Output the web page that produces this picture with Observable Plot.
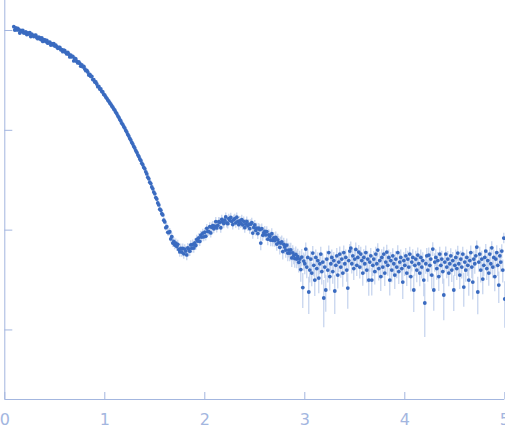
<!DOCTYPE html>
<html><head><meta charset="utf-8">
<script src="https://cdn.jsdelivr.net/npm/d3@7"></script>
<script src="https://cdn.jsdelivr.net/npm/@observablehq/plot@0.6"></script>
<style>html,body{margin:0;padding:0;background:#fff;overflow:hidden}</style>
</head><body><div id="chart"></div>
<script>
// scattering vector q (nm^-1)
const q = [0.09,
0.10,0.11,0.12,0.13,0.14,0.15,0.16,0.17,0.18,0.19,
0.20,0.21,0.22,0.23,0.24,0.25,0.26,0.27,0.28,0.29,
0.30,0.31,0.32,0.33,0.34,0.35,0.36,0.37,0.38,0.39,
0.40,0.41,0.42,0.43,0.44,0.45,0.46,0.47,0.48,0.49,
0.50,0.51,0.52,0.53,0.54,0.55,0.56,0.57,0.58,0.59,
0.60,0.61,0.62,0.63,0.64,0.65,0.66,0.67,0.68,0.69,
0.70,0.71,0.72,0.73,0.74,0.75,0.76,0.77,0.78,0.79,
0.80,0.81,0.82,0.83,0.84,0.85,0.86,0.87,0.88,0.89,
0.90,0.91,0.92,0.93,0.94,0.95,0.96,0.97,0.98,0.99,
1.00,1.01,1.02,1.03,1.04,1.05,1.06,1.07,1.08,1.09,
1.10,1.11,1.12,1.13,1.14,1.15,1.16,1.17,1.18,1.19,
1.20,1.21,1.22,1.23,1.24,1.25,1.26,1.27,1.28,1.29,
1.30,1.31,1.32,1.33,1.34,1.35,1.36,1.37,1.38,1.39,
1.40,1.41,1.42,1.43,1.44,1.45,1.46,1.47,1.48,1.49,
1.50,1.51,1.52,1.53,1.54,1.55,1.56,1.57,1.58,1.59,
1.60,1.61,1.62,1.63,1.64,1.65,1.66,1.67,1.68,1.69,
1.70,1.71,1.72,1.73,1.74,1.75,1.76,1.77,1.78,1.79,
1.80,1.81,1.82,1.83,1.84,1.85,1.86,1.87,1.88,1.89,
1.90,1.91,1.92,1.93,1.94,1.95,1.96,1.97,1.98,1.99,
2.00,2.01,2.02,2.03,2.04,2.05,2.06,2.07,2.08,2.09,
2.10,2.11,2.12,2.13,2.14,2.15,2.16,2.17,2.18,2.19,
2.20,2.21,2.22,2.23,2.24,2.25,2.26,2.27,2.28,2.29,
2.30,2.31,2.32,2.33,2.34,2.35,2.36,2.37,2.38,2.39,
2.40,2.41,2.42,2.43,2.44,2.45,2.46,2.47,2.48,2.49,
2.50,2.51,2.52,2.53,2.54,2.55,2.56,2.57,2.58,2.59,
2.60,2.61,2.62,2.63,2.64,2.65,2.66,2.67,2.68,2.69,
2.70,2.71,2.72,2.73,2.74,2.75,2.76,2.77,2.78,2.79,
2.80,2.81,2.82,2.83,2.84,2.85,2.86,2.87,2.88,2.89,
2.90,2.91,2.92,2.93,2.94,2.95,2.96,2.97,2.98,2.99,
3.00,3.01,3.02,3.03,3.04,3.05,3.06,3.07,3.08,3.09,
3.10,3.11,3.12,3.13,3.14,3.15,3.16,3.17,3.18,3.19,
3.20,3.21,3.22,3.23,3.24,3.25,3.26,3.27,3.28,3.29,
3.30,3.31,3.32,3.33,3.34,3.35,3.36,3.37,3.38,3.39,
3.40,3.41,3.42,3.43,3.44,3.45,3.46,3.47,3.48,3.49,
3.50,3.51,3.52,3.53,3.54,3.55,3.56,3.57,3.58,3.59,
3.60,3.61,3.62,3.63,3.64,3.65,3.66,3.67,3.68,3.69,
3.70,3.71,3.72,3.73,3.74,3.75,3.76,3.77,3.78,3.79,
3.80,3.81,3.82,3.83,3.84,3.85,3.86,3.87,3.88,3.89,
3.90,3.91,3.92,3.93,3.94,3.95,3.96,3.97,3.98,3.99,
4.00,4.01,4.02,4.03,4.04,4.05,4.06,4.07,4.08,4.09,
4.10,4.11,4.12,4.13,4.14,4.15,4.16,4.17,4.18,4.19,
4.20,4.21,4.22,4.23,4.24,4.25,4.26,4.27,4.28,4.29,
4.30,4.31,4.32,4.33,4.34,4.35,4.36,4.37,4.38,4.39,
4.40,4.41,4.42,4.43,4.44,4.45,4.46,4.47,4.48,4.49,
4.50,4.51,4.52,4.53,4.54,4.55,4.56,4.57,4.58,4.59,
4.60,4.61,4.62,4.63,4.64,4.65,4.66,4.67,4.68,4.69,
4.70,4.71,4.72,4.73,4.74,4.75,4.76,4.77,4.78,4.79,
4.80,4.81,4.82,4.83,4.84,4.85,4.86,4.87,4.88,4.89,
4.90,4.91,4.92,4.93,4.94,4.95,4.96,4.97,4.98,4.99,
5.00];

// log10 of intensity (arbitrary units)
const logI = [3.038,
3.005,3.026,3.006,3.022,3.006,2.975,3.001,2.989,3.000,2.976,
2.976,2.986,2.960,2.976,2.964,2.978,2.939,2.963,2.952,2.939,
2.950,2.953,2.928,2.918,2.933,2.926,2.909,2.925,2.891,2.909,
2.907,2.890,2.900,2.873,2.882,2.883,2.854,2.869,2.857,2.868,
2.844,2.853,2.836,2.821,2.831,2.830,2.807,2.809,2.788,2.802,
2.798,2.779,2.765,2.780,2.763,2.735,2.752,2.736,2.740,2.695,
2.720,2.715,2.690,2.675,2.685,2.670,2.643,2.655,2.636,2.641,
2.615,2.598,2.601,2.584,2.554,2.561,2.540,2.539,2.508,2.507,
2.484,2.484,2.464,2.437,2.439,2.413,2.415,2.389,2.384,2.360,
2.352,2.333,2.321,2.303,2.291,2.274,2.262,2.244,2.231,2.213,
2.202,2.180,2.166,2.145,2.130,2.108,2.094,2.072,2.058,2.036,
2.022,1.998,1.982,1.958,1.942,1.918,1.902,1.878,1.862,1.838,
1.822,1.797,1.780,1.754,1.738,1.713,1.698,1.670,1.655,1.628,
1.614,1.584,1.563,1.530,1.514,1.480,1.466,1.432,1.414,1.381,
1.364,1.326,1.311,1.272,1.253,1.210,1.199,1.165,1.152,1.099,
1.082,1.025,1.035,0.978,0.975,0.985,0.912,0.935,0.870,0.886,
0.850,0.870,0.835,0.858,0.807,0.783,0.817,0.781,0.818,0.763,
0.810,0.790,0.752,0.823,0.810,0.789,0.852,0.819,0.858,0.821,
0.872,0.846,0.907,0.891,0.923,0.887,0.950,0.930,0.970,0.933,
0.980,0.939,1.018,0.987,0.986,1.035,0.972,1.029,1.046,1.013,
1.040,1.086,1.022,1.048,1.084,1.080,1.024,1.108,1.082,1.066,
1.100,1.132,1.073,1.065,1.116,1.098,1.127,1.087,1.056,1.106,
1.115,1.072,1.130,1.087,1.055,1.092,1.069,1.105,1.052,1.088,
1.025,1.061,1.087,1.043,1.059,1.015,1.060,1.076,0.971,1.027,
1.052,0.997,1.021,0.966,1.020,1.005,0.870,1.014,0.949,0.973,
0.988,0.952,0.986,0.909,0.953,0.937,0.901,0.964,0.898,0.921,
0.895,0.928,0.860,0.903,0.875,0.828,0.870,0.883,0.785,0.858,
0.830,0.800,0.850,0.770,0.800,0.770,0.801,0.722,0.773,0.744,
0.715,0.758,0.711,0.734,0.677,0.710,0.605,0.730,0.425,0.690,
0.663,0.810,0.630,0.727,0.380,0.600,0.710,0.570,0.770,0.647,
0.500,0.727,0.615,0.695,0.520,0.663,0.760,0.585,0.680,0.320,
0.630,0.400,0.710,0.600,0.775,0.535,0.663,0.727,0.585,0.695,
0.390,0.647,0.743,0.550,0.680,0.760,0.630,0.710,0.570,0.775,
0.663,0.727,0.600,0.420,0.695,0.790,0.820,0.663,0.743,0.615,
0.710,0.807,0.647,0.727,0.780,0.630,0.760,0.695,0.570,0.727,
0.663,0.775,0.600,0.710,0.500,0.680,0.743,0.500,0.647,0.710,
0.585,0.760,0.663,0.800,0.615,0.695,0.535,0.727,0.630,0.760,
0.570,0.680,0.780,0.647,0.727,0.500,0.695,0.600,0.743,0.663,
0.550,0.710,0.630,0.775,0.585,0.680,0.727,0.615,0.480,0.695,
0.647,0.743,0.570,0.710,0.630,0.760,0.535,0.680,0.727,0.400,
0.647,0.710,0.600,0.750,0.663,0.570,0.727,0.630,0.695,0.500,
0.270,0.663,0.743,0.600,0.750,0.647,0.710,0.550,0.810,0.400,
0.680,0.727,0.615,0.695,0.535,0.760,0.647,0.710,0.585,0.350,
0.680,0.760,0.630,0.710,0.570,0.663,0.743,0.600,0.695,0.400,
0.647,0.727,0.615,0.770,0.663,0.550,0.710,0.630,0.760,0.430,
0.680,0.600,0.727,0.647,0.500,0.695,0.775,0.630,0.480,0.710,
0.663,0.743,0.830,0.380,0.680,0.760,0.600,0.710,0.510,0.647,
0.727,0.790,0.615,0.695,0.570,0.760,0.663,0.823,0.630,0.727,
0.535,0.710,0.775,0.647,0.450,0.743,0.680,0.790,0.600,0.920,
0.310];

// absolute intensity uncertainty (same units as 10^logI)
const sigma = [16,
16,15,16,15,15,14,15,14,14,14,
14,13,14,13,13,13,13,12,13,13,
13,12,12,12,12,12,11,12,11,11,
12,11,11,11,11,10,11,10,10,10,
11,10,10,10,9.5,9.5,9,9.5,9,9,
9,8.8,8.6,8.5,8.3,8.1,8,7.8,7.6,7.5,
7.8,7.5,7.3,7,6.8,6.6,6.4,6.2,6,5.8,
6.3,6,5.8,5.6,5.4,5.2,5,4.8,4.6,4.4,
4.6,4.5,4.3,4.2,4,3.9,3.8,3.6,3.5,3.4,
3.4,3.3,3.2,3.1,3.0,2.9,2.8,2.7,2.6,2.5,
2.5,2.4,2.3,2.2,2.1,2.0,1.95,1.9,1.85,1.8,
1.8,1.7,1.65,1.6,1.5,1.45,1.4,1.35,1.3,1.25,
1.25,1.2,1.15,1.1,1.08,1.05,1.02,1.0,0.98,0.96,
0.95,0.93,0.92,0.9,0.89,0.88,0.87,0.86,0.85,0.84,
0.84,0.83,0.82,0.82,0.81,0.8,0.8,0.79,0.78,0.78,
0.77,0.77,0.76,0.76,0.75,0.75,0.74,0.74,0.73,0.73,
0.72,0.72,0.72,0.71,0.71,0.71,0.7,0.7,0.7,0.7,
0.7,0.7,0.71,0.71,0.72,0.72,0.73,0.74,0.75,0.76,
0.77,0.78,0.8,0.81,0.82,0.84,0.85,0.86,0.88,0.9,
0.9,0.92,0.95,0.97,1.0,1.02,1.05,1.07,1.1,1.12,
1.14,1.16,1.18,1.2,1.22,1.24,1.26,1.28,1.3,1.31,
1.32,1.33,1.34,1.35,1.36,1.36,1.37,1.37,1.37,1.37,
1.37,1.36,1.36,1.35,1.35,1.34,1.33,1.33,1.32,1.31,
1.3,1.3,1.29,1.28,1.27,1.26,1.25,1.25,1.24,1.23,
1.22,1.22,1.21,1.2,1.2,1.19,1.18,1.18,1.17,1.17,
1.16,1.16,1.15,1.15,1.14,1.14,1.13,1.13,1.12,1.12,
1.11,1.11,1.1,1.1,1.1,1.09,1.09,1.08,1.08,1.08,
1.07,1.07,1.07,1.06,1.06,1.06,1.05,1.05,1.05,1.05,
1.04,1.04,1.04,1.03,1.03,1.03,1.02,1.02,1.02,1.02,
1.02,0.98,1.01,1.0,0.97,1.03,0.99,1.01,0.98,1.02,
1.0,0.99,1.03,0.98,1.01,1.0,0.97,1.02,0.99,1.04,
0.98,1.01,1.0,1.03,0.99,0.97,1.02,1.0,0.98,1.01,
1.03,0.99,1.0,0.98,1.02,1.01,0.97,1.0,1.03,0.99,
1.01,1.0,0.98,1.02,0.99,1.03,1.0,0.97,1.01,1.0,
0.99,1.02,1.0,0.98,1.01,1.03,0.99,1.0,0.97,1.02,
1.0,0.98,1.03,1.01,0.99,1.0,1.02,0.98,1.01,0.99,
1.02,1.0,0.97,1.01,1.03,0.99,1.0,1.02,0.98,1.0,
0.99,1.01,1.02,0.98,1.0,0.97,1.03,1.01,0.99,1.0,
1.01,0.98,1.0,1.02,0.99,1.01,0.98,1.03,1.0,0.99,
1.0,1.02,0.99,1.01,0.97,1.0,1.03,0.98,1.01,1.02,
0.98,1.0,1.01,0.99,1.03,1.0,0.98,1.02,0.99,1.01,
1.02,0.99,1.0,0.98,1.01,1.03,1.0,0.99,1.02,0.97,
1.0,1.01,0.98,1.02,1.0,0.99,1.03,1.01,0.98,1.0,
0.99,1.02,1.01,0.97,1.0,1.02,0.99,1.0,1.03,0.98,
1.01,1.0,0.99,1.02,0.98,1.01,1.0,1.03,0.99,1.0,
1.02,0.98,1.0,1.01,0.99,1.03,0.98,1.0,1.02,1.01,
0.99,1.0,1.02,0.98,1.01,0.99,1.03,1.0,0.98,1.02,
1.0,1.01,0.99,1.02,0.98,1.0,1.03,0.99,1.01,1.0,
1.02,0.99,1.0,1.01,0.98,1.02,1.0,0.99,1.03,1.01,
1.0];

const xTicks = [0, 1, 2, 3, 4, 5];
const yTicks = [1000, 100, 10, 1];

const data = q.map((v, i) => ({q: v, I: Math.pow(10, logI[i]), s: sigma[i]}));
const axisColor = "#a3b6df";

const chart = Plot.plot({
  width: 505,
  height: 437,
  marginLeft: 4.3,
  marginRight: 0.7,
  marginTop: 0,
  marginBottom: 38,
  style: {fontFamily: "DejaVu Sans", background: "#ffffff"},
  x: {domain: [0, 5], label: null},
  y: {type: "log", domain: [0.201, 1998], label: null},
  marks: [
    Plot.ruleX(data, {x: "q", y1: d => Math.max(d.I - d.s, 0.21), y2: d => d.I + d.s, stroke: "#bccdeb", strokeWidth: 1.1}),
    Plot.dot(data, {x: "q", y: "I", r: 1.9, fill: "#3a6bc0", stroke: "none"}),
    Plot.axisY(yTicks, {anchor: "left", label: null, tickSize: -8, tickFormat: () => "", stroke: axisColor}),
    Plot.axisX(xTicks, {anchor: "bottom", label: null, tickSize: -7, tickFormat: () => "", stroke: axisColor}),
    Plot.axisX(xTicks, {anchor: "bottom", label: null, tickSize: 0, tickPadding: 14, fontSize: 16, fill: axisColor, tickFormat: d => String(d)}),
    Plot.ruleX([0], {stroke: axisColor}),
    Plot.ruleY([0.201], {stroke: axisColor})
  ]
});
document.getElementById("chart").appendChild(chart);
</script>
</body></html>
